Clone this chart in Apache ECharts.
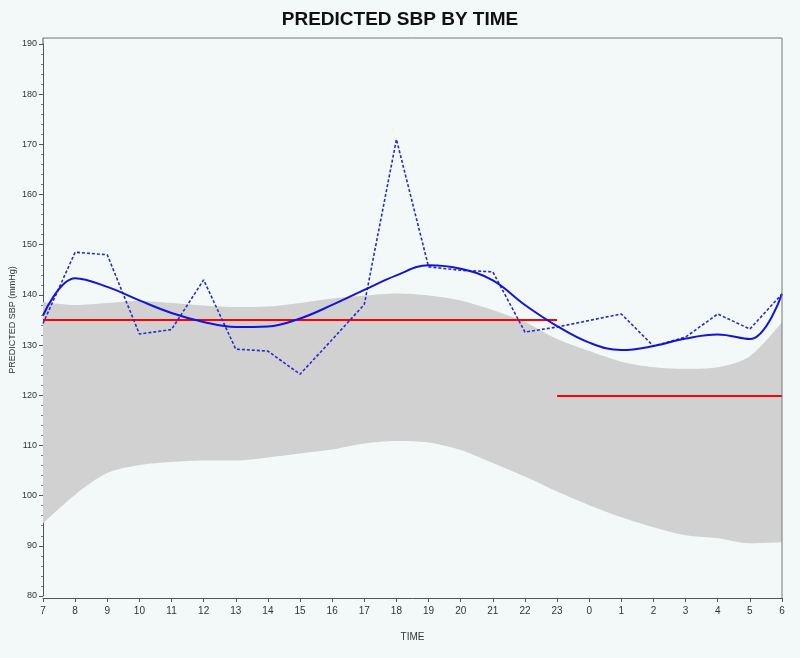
<!DOCTYPE html>
<html>
<head>
<meta charset="utf-8">
<script src="https://cdn.jsdelivr.net/npm/echarts@6/dist/echarts.min.js"></script>
<style>
  html, body { margin: 0; padding: 0; background: #f3f9f9; }
  #chart { width: 800px; height: 658px; }
</style>
</head>
<body>
<div id="chart"></div>
<script>
// hours on the x axis
var hours = ['7','8','9','10','11','12','13','14','15','16','17','18','19','20','21','22','23','0','1','2','3','4','5','6'];

// observed values (dotted line)
var observed = [134.3, 148.5, 148, 132.2, 133.1, 143, 129.2, 128.8, 124.2, 131.1, 138.1, 171, 145.6, 144.9, 144.6, 132.6, 133.6, 134.9, 136.2, 129.8, 131.6, 136.2, 133.2, 140.2];

// predicted values (smooth solid line)
var predicted = [135.9, 143.3, 141.6, 138.9, 136.4, 134.6, 133.6, 133.7, 135.3, 138, 141, 143.9, 145.9, 145.2, 142.9, 138, 133.8, 130.5, 129, 129.8, 131.3, 132.1, 131.2, 140.2];

// band around prediction
var bandLow = [94.5, 100.2, 104.5, 106.1, 106.7, 107, 107, 107.6, 108.4, 109.2, 110.4, 110.9, 110.6, 109.1, 106.5, 103.8, 100.8, 98.1, 95.7, 93.7, 92.1, 91.5, 90.5, 90.7];
var bandHigh = [138.6, 138, 138.4, 138.8, 138.4, 137.9, 137.6, 137.7, 138.4, 139.3, 139.9, 140.3, 139.9, 138.9, 137, 134.6, 131.2, 128.8, 126.7, 125.6, 125.3, 125.6, 127.8, 134.6];

// reference lines: daytime (7-23) and night (23-6)
var dayRef = 135;
var nightRef = 120;

var bandDiff = bandHigh.map(function (v, i) { return +(v - bandLow[i]).toFixed(2); });

var chart = echarts.init(document.getElementById('chart'));

var font = 'Liberation Sans, Arial, sans-serif';

chart.setOption({
  backgroundColor: '#f3f9f9',
  animation: false,
  title: {
    text: 'PREDICTED SBP BY TIME',
    left: 395,
    top: 5,
    textAlign: 'center',
    textStyle: { fontFamily: font, fontSize: 19, fontWeight: 'bold', color: '#111' }
  },
  grid: { left: 43, right: 18, top: 44, bottom: 62, outerBoundsMode: 'none' },
  graphic: [{
    type: 'polyline',
    shape: { points: [[43, 38], [782, 38], [782, 598]] },
    style: { stroke: '#777', lineWidth: 1, fill: null },
    z: 10
  }, {
    type: 'line',
    shape: { x1: 43, y1: 38, x2: 43, y2: 44 },
    style: { stroke: '#555', lineWidth: 1 },
    z: 10
  }],
  xAxis: {
    type: 'category',
    data: hours,
    boundaryGap: false,
    offset: 2,
    name: 'TIME',
    nameLocation: 'middle',
    nameGap: 34,
    nameMoveOverlap: false,
    nameTextStyle: { fontFamily: font, fontSize: 10, color: '#333' },
    axisLine: { lineStyle: { color: '#555' } },
    axisTick: { alignWithLabel: true, length: 4, lineStyle: { color: '#555' } },
    axisLabel: { fontFamily: font, fontSize: 10, color: '#333', margin: 8, interval: 0 },
    splitLine: { show: false }
  },
  yAxis: {
    type: 'value',
    min: 80,
    max: 190,
    interval: 10,
    name: 'PREDICTED SBP (mmHg)',
    nameLocation: 'middle',
    nameGap: 26,
    nameMoveOverlap: false,
    nameTextStyle: { fontFamily: font, fontSize: 9, color: '#333' },
    axisLine: { show: true, lineStyle: { color: '#555' } },
    axisTick: { show: true, length: 4, lineStyle: { color: '#555' } },
    minorTick: { show: true, splitNumber: 5, length: 2, lineStyle: { color: '#777' } },
    axisLabel: { fontFamily: font, fontSize: 9, color: '#333', margin: 6 },
    splitLine: { show: false }
  },
  series: [
    {
      name: 'bandLow',
      type: 'line',
      data: bandLow,
      stack: 'band',
      smooth: 0.3,
      symbol: 'none',
      lineStyle: { opacity: 0 },
      silent: true
    },
    {
      name: 'band',
      type: 'line',
      data: bandDiff,
      stack: 'band',
      smooth: 0.3,
      symbol: 'none',
      lineStyle: { opacity: 0 },
      areaStyle: { color: '#d1d1d1', opacity: 1 },
      silent: true,
      markLine: {
        silent: true,
        symbol: 'none',
        label: { show: false },
        lineStyle: { color: '#ff0000', width: 2, type: 'solid' },
        data: [
          [{ coord: ['7', dayRef] }, { coord: ['23', dayRef] }],
          [{ coord: ['23', nightRef] }, { coord: ['6', nightRef] }]
        ]
      }
    },
    {
      name: 'observed',
      type: 'line',
      data: observed,
      symbol: 'none',
      z: 5,
      lineStyle: { color: '#2a2ac8', width: 1.6, type: [3, 2] }
    },
    {
      name: 'predicted',
      type: 'line',
      data: predicted,
      smooth: 0.4,
      symbol: 'none',
      z: 6,
      lineStyle: { color: '#1414d8', width: 2 }
    }
  ]
});
</script>
</body>
</html>
